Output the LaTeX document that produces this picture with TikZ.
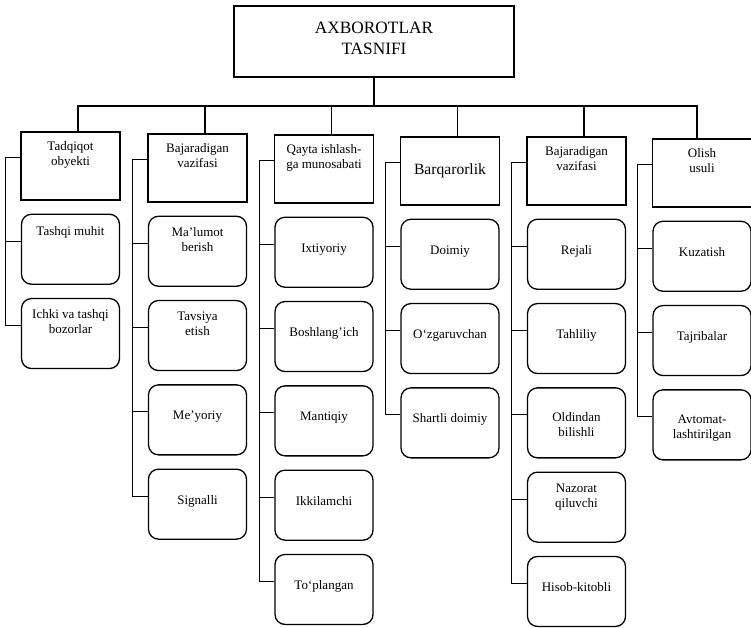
\documentclass[tikz,border=0pt]{standalone}
\usepackage{fontspec}
\setmainfont{Liberation Serif}
\usetikzlibrary{positioning}

\newcommand{\boxtxt}[2][86pt]{\parbox[b]{#1}{\centering #2}}

\begin{document}
\begin{tikzpicture}[x=1pt, y=-1pt]
\tikzset{
node distance=13pt, % gap between the boxes of one column
headbox/.style={draw, line width=2pt, minimum width=280pt, minimum height=71pt, text height=25pt, text depth=0pt, font=\fontsize{17.3}{21}\selectfont},
catbox/.style={draw, line width=1.6pt, minimum width=99pt, minimum height=68pt, text height=0pt, text depth=0pt, font=\fontsize{13}{15}\selectfont},
itembox/.style={draw, line width=1.3pt, rounded corners=10pt, minimum width=98pt, minimum height=70pt, text height=0pt, text depth=0pt, font=\fontsize{13}{15}\selectfont},
wire/.style={line width=1.1pt},
}
\useasboundingbox (0,0) rectangle (751,627);

\node[headbox] (root) at (374,41.5) {\boxtxt[200pt]{AXBOROTLAR\\TASNIFI}};

% categories
\node[catbox, anchor=north] (c1) at (70.5,131) {\boxtxt{Tadqiqot\\obyekti}};
\node[catbox, anchor=north] (c2) at (197.5,133) {\boxtxt{Bajaradigan\\vazifasi}};
\node[catbox, anchor=north] (c3) at (324,134) {\boxtxt{Qayta ishlash-\\ga munosabati}};
\node[catbox, anchor=north, text height=8pt, font=\fontsize{15.6}{18}\selectfont] (c4) at (450,136) {\boxtxt{Barqarorlik}};
\node[catbox, anchor=north] (c5) at (576.5,136) {\boxtxt{Bajaradigan\\vazifasi}};
\node[catbox, anchor=north] (c6) at (702,138) {\boxtxt{Olish\\usuli}};

% column 1
\node[itembox, below=of c1, text depth=28pt] (c11) {\boxtxt{Tashqi muhit}};
\node[itembox, below=of c11] (c12) {\boxtxt{Ichki va tashqi\\bozorlar}};

% column 2
\node[itembox, below=of c2] (c21) {\boxtxt{Ma'lumot\\berish}};
\node[itembox, below=of c21] (c22) {\boxtxt{Tavsiya\\etish}};
\node[itembox, below=of c22] (c23) {\boxtxt{Me'yoriy}};
\node[itembox, below=of c23] (c24) {\boxtxt{Signalli}};

% column 3
\node[itembox, below=of c3] (c31) {\boxtxt{Ixtiyoriy}};
\node[itembox, below=of c31] (c32) {\boxtxt{Boshlang'ich}};
\node[itembox, below=of c32] (c33) {\boxtxt{Mantiqiy}};
\node[itembox, below=of c33] (c34) {\boxtxt{Ikkilamchi}};
\node[itembox, below=of c34] (c35) {\boxtxt{To`plangan}};

% column 4
\node[itembox, below=of c4] (c41) {\boxtxt{Doimiy}};
\node[itembox, below=of c41] (c42) {\boxtxt{O`zgaruvchan}};
\node[itembox, below=of c42] (c43) {\boxtxt{Shartli doimiy}};

% column 5
\node[itembox, below=of c5] (c51) {\boxtxt{Rejali}};
\node[itembox, below=of c51] (c52) {\boxtxt{Tahliliy}};
\node[itembox, below=of c52, text height=28pt] (c53) {\boxtxt{Oldindan\\bilishli}};
\node[itembox, below=of c53] (c54) {\boxtxt{Nazorat\\qiluvchi}};
\node[itembox, below=of c54] (c55) {\boxtxt{Hisob-kitobli}};

% column 6
\node[itembox, below=of c6] (c61) {\boxtxt{Kuzatish}};
\node[itembox, below=of c61] (c62) {\boxtxt{Tajribalar}};
\node[itembox, below=of c62, text height=28pt] (c63) {\boxtxt{Avtomat-\\lashtirilgan}};

% root to categories
\draw[wire] (root.south) -- ++(0,28) coordinate (bus);
\draw[wire] ([xshift=7.5pt]c1.north) |- (bus) -| ([xshift=-5pt]c6.north);
\foreach \c in {c2,c3,c4,c5}
  \draw[wire] ([xshift=7.5pt]\c.north) -- ([xshift=7.5pt]\c.north |- bus);

% spines of the columns
\foreach \c/\l in {c1/c12,c2/c24,c3/c35,c4/c43,c5/c55,c6/c63}
  \draw[wire] ([yshift=8pt]\c.west) -| ([xshift=-15pt,yshift=8pt]\l.west) -- ([yshift=8pt]\l.west);
\foreach \n in {c11,c21,c22,c23,c31,c32,c33,c34,c41,c42,c51,c52,c53,c54,c61,c62}
  \draw[wire] ([yshift=8pt]\n.west) -- ++(-15pt,0);
\end{tikzpicture}
\end{document}
